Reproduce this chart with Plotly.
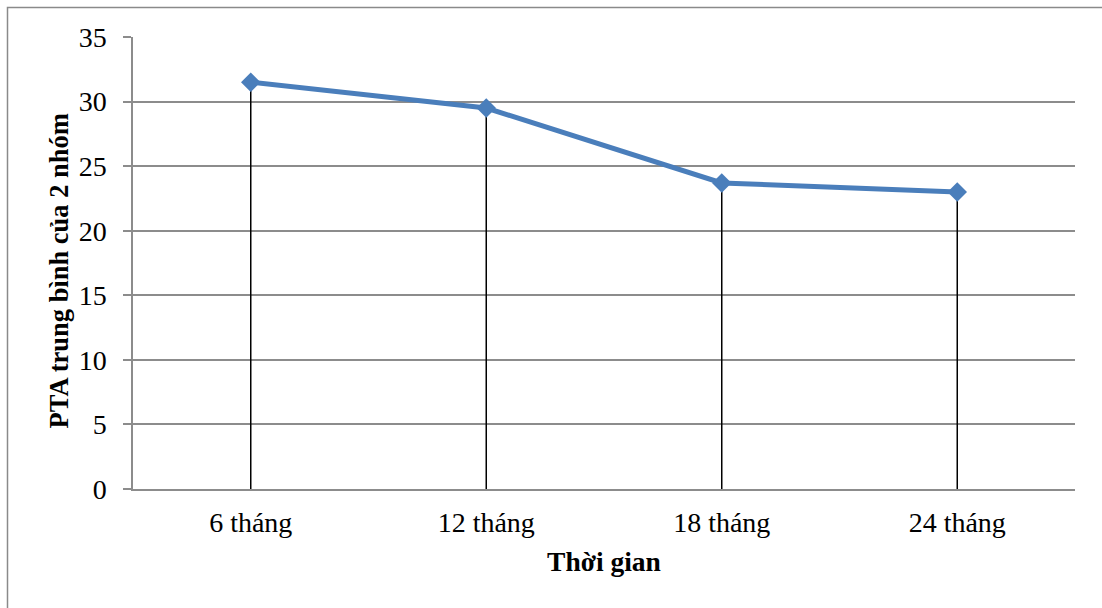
import plotly.graph_objects as go

# Data
categories = ["6 tháng", "12 tháng", "18 tháng", "24 tháng"]
pta_values = [31.5, 29.5, 23.7, 23.0]
y_ticks = [0, 5, 10, 15, 20, 25, 30, 35]

x_title = "Thời gian"
y_title = "PTA trung bình của 2 nhóm"

FONT = "Liberation Serif"
GRID = "#8c8c8c"
BLUE = "#4a7ebb"

fig = go.Figure()

# Vertical drop lines from each point down to zero
for cat, val in zip(categories, pta_values):
    fig.add_trace(go.Scatter(
        x=[cat, cat], y=[0, val], mode="lines",
        line=dict(color="black", width=1.5),
        hoverinfo="skip", showlegend=False,
    ))

# Main series
fig.add_trace(go.Scatter(
    x=categories, y=pta_values, mode="lines+markers",
    line=dict(color=BLUE, width=5),
    marker=dict(symbol="diamond", size=15, color=BLUE),
    showlegend=False,
))

W, H = 1102, 608
L, R, T, B = 133, 27, 37, 119
pw, ph = W - L - R, H - T - B

def px_x(p):
    return (p - L) / pw

def px_y(p):
    return (H - B - p) / ph

# Outer chart border
fig.add_shape(
    type="rect", xref="paper", yref="paper",
    x0=px_x(7.5), x1=px_x(1115), y0=px_y(620), y1=px_y(7.5),
    line=dict(color="#8a8a8a", width=1.5), fillcolor="rgba(0,0,0,0)",
    layer="below",
)

# Vertical y-axis title
fig.add_annotation(
    text=f"<b>{y_title}</b>", textangle=-90,
    xref="paper", yref="paper", x=px_x(58), y=px_y(271.5),
    xanchor="center", yanchor="middle", showarrow=False,
    font=dict(family=FONT, size=26.5, color="black"),
)

fig.update_layout(
    width=W, height=H,
    margin=dict(l=L, r=R, t=T, b=B),
    paper_bgcolor="white", plot_bgcolor="white",
    font=dict(family=FONT, size=28, color="black"),
    xaxis=dict(
        type="category",
        range=[-0.5, 3.5],
        showgrid=False,
        showline=True, linecolor=GRID, linewidth=1.5,
        ticks="", ticklabelstandoff=8,
        tickfont=dict(family=FONT, size=28),
        title=dict(text=f"<b>{x_title}</b>", font=dict(family=FONT, size=27.5), standoff=14),
        zeroline=False,
    ),
    yaxis=dict(
        range=[0, 35],
        tickvals=y_ticks,
        showgrid=True, gridcolor=GRID, gridwidth=1.5,
        showline=True, linecolor=GRID, linewidth=1.5,
        ticks="outside", ticklen=8, tickcolor=GRID, tickwidth=1.5,
        ticklabelstandoff=11,
        tickfont=dict(family=FONT, size=28),
        zeroline=False,
    ),
)

fig.write_html("out.html")
